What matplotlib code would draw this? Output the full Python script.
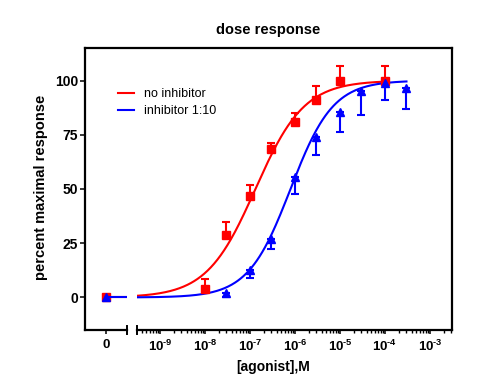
import numpy as np
import matplotlib
matplotlib.use("Agg")
import matplotlib.pyplot as plt
from matplotlib.lines import Line2D

plt.rcParams['font.family'] = ['Liberation Sans', 'DejaVu Sans']
plt.rcParams['font.weight'] = 'bold'
plt.rcParams['mathtext.fontset'] = 'custom'
plt.rcParams['mathtext.bf'] = 'Liberation Sans:bold'
plt.rcParams['mathtext.rm'] = 'Liberation Sans:bold'

# ---------------- data ----------------
red_conc = [1e-8, 3e-8, 1e-7, 3e-7, 1e-6, 3e-6, 1e-5, 1e-4]
red_resp = [4.0, 29.0, 46.7, 68.6, 81.0, 90.8, 99.9, 100.0]
red_err = [4.6, 6.0, 5.0, 2.6, 4.2, 6.7, 6.6, 6.5]
red_zero_resp = 0.0

blue_conc = [3e-8, 1e-7, 3e-7, 1e-6, 3e-6, 1e-5, 3e-5, 1e-4, 3e-4]
blue_resp = [2.0, 12.8, 27.0, 55.6, 74.0, 85.7, 95.0, 98.8, 96.5]
blue_err = [2.0, 3.8, 4.8, 8.0, 8.4, 9.3, 11.0, 7.8, 9.6]
blue_zero_resp = 0.0

# fitted curve parameters (bottom, top, logEC50, hill slope)
red_fit = (0.0, 100.0, -6.88, 0.80)
blue_fit = (0.0, 100.0, -6.10, 0.92)

labels = ['no inhibitor', 'inhibitor 1:10']
y_ticks = [0, 25, 50, 75, 100]
x_decades = [-9, -8, -7, -6, -5, -4, -3]

RED = '#FF0000'
BLUE = '#0000FF'

W, H = 478, 386
fig = plt.figure(figsize=(W / 100, H / 100), dpi=100)

L, R, T, B = 85, 452, 48, 330
gap_l, gap_r = 127, 137
ax0 = fig.add_axes([L / W, (H - B) / H, (gap_l - L) / W, (B - T) / H])
ax1 = fig.add_axes([gap_r / W, (H - B) / H, (R - gap_r) / W, (B - T) / H], sharey=ax0)

xmin_log = 10 ** (-9 - (160 - gap_r) / 45)
xmax_log = 10 ** (-3 + (R - 430) / 45)


def hill(x, p):
    b, t, lec, n = p
    return b + (t - b) / (1 + 10 ** ((lec - np.log10(x)) * n))


lw_spine = 1.6
for ax in (ax0, ax1):
    for s in ax.spines.values():
        s.set_linewidth(lw_spine)
ax0.spines['right'].set_visible(False)
ax0.spines['top'].set_visible(False)
ax1.spines['left'].set_visible(False)
ax1.spines['top'].set_visible(False)

fig.add_artist(Line2D([L / W, R / W], [(H - T) / H, (H - T) / H], transform=fig.transFigure,
                      color='k', lw=lw_spine, solid_capstyle='projecting'))

ax0.set_xlim(-1, 1)
ax0.set_ylim(-15, 115)
ax1.set_xscale('log')
ax1.set_xlim(xmin_log, xmax_log)

ax0.set_yticks(y_ticks)
ax0.set_yticklabels([str(v) for v in y_ticks])
ax0.set_xticks([0])
ax0.set_xticklabels(['0'])
ax0.tick_params(axis='y', direction='out', length=3.6, width=1.1, pad=1.5, labelsize=10)
ax0.tick_params(axis='x', direction='out', length=3.2, width=1.1, pad=3, labelsize=9.5)

HYPH = '\u2010'
ax1.set_xticks([10.0 ** d for d in x_decades])
ax1.set_xticklabels(['$\\mathbf{10^{' + HYPH + '%d}}$' % (-d) for d in x_decades])
ax1.xaxis.set_minor_locator(matplotlib.ticker.LogLocator(base=10, subs=np.arange(2, 10), numticks=100))
ax1.xaxis.set_minor_formatter(matplotlib.ticker.NullFormatter())
ax1.tick_params(axis='x', which='major', direction='out', length=3.2, width=1.1, pad=3, labelsize=9.5)
ax1.tick_params(axis='x', which='minor', direction='out', length=2.2, width=1.0)
ax1.tick_params(axis='y', which='both', left=False, right=False, labelleft=False)

# break markers
bh = 4 / (B - T)
ax0.plot([1, 1], [-bh, bh], transform=ax0.transAxes, color='k', lw=1.4, clip_on=False)
ax1.plot([0, 0], [-bh, bh], transform=ax1.transAxes, color='k', lw=1.4, clip_on=False)

# zero-dose segment
for zr, p, col, mk, ms in ((red_zero_resp, red_fit, RED, 's', 5.3), (blue_zero_resp, blue_fit, BLUE, '^', 5.8)):
    ax0.plot([0, 1.2], [p[0], p[0]], color=col, lw=1.5)
    ax0.plot([0], [zr], marker=mk, color=col, ms=ms, ls='none')

# curves
xr = np.logspace(np.log10(xmin_log), np.log10(max(red_conc)), 300)
xb = np.logspace(np.log10(xmin_log), np.log10(max(blue_conc)), 300)
ax1.plot(xr, hill(xr, red_fit), color=RED, lw=1.5)
ax1.plot(xb, hill(xb, blue_fit), color=BLUE, lw=1.5)

ax1.errorbar(red_conc, red_resp, yerr=[np.zeros(len(red_err)), red_err], fmt='s', color=RED,
             ms=5.3, elinewidth=1.5, capsize=2.6, capthick=1.5, clip_on=False)
ax1.errorbar(blue_conc, blue_resp, yerr=[blue_err, np.zeros(len(blue_err))], fmt='^', color=BLUE,
             ms=5.8, elinewidth=1.5, capsize=2.9, capthick=1.5, clip_on=False)

# labels
fig.text((L + R) / 2 / W, 1 - 30 / H, 'dose response', ha='center', va='center', fontsize=10.5, fontweight='bold')
fig.text(41 / W, 1 - 187 / H, 'percent maximal response', ha='center', va='center', rotation=90,
         fontsize=10.5, fontweight='bold')
fig.text(273.5 / W, 1 - 367 / H, '[agonist],M', ha='center', va='center', fontsize=10, fontweight='bold')

handles = [Line2D([], [], color=RED, lw=1.5), Line2D([], [], color=BLUE, lw=1.5)]
fig.legend(handles, labels, loc='upper left', bbox_to_anchor=(118 / W, 1 - 88 / H), frameon=False,
           borderpad=0, borderaxespad=0, handlelength=1.25, handletextpad=0.8, labelspacing=0.4,
           prop={'family': 'Liberation Sans', 'weight': 'normal', 'size': 9})

fig.savefig('out.png', dpi=100)
